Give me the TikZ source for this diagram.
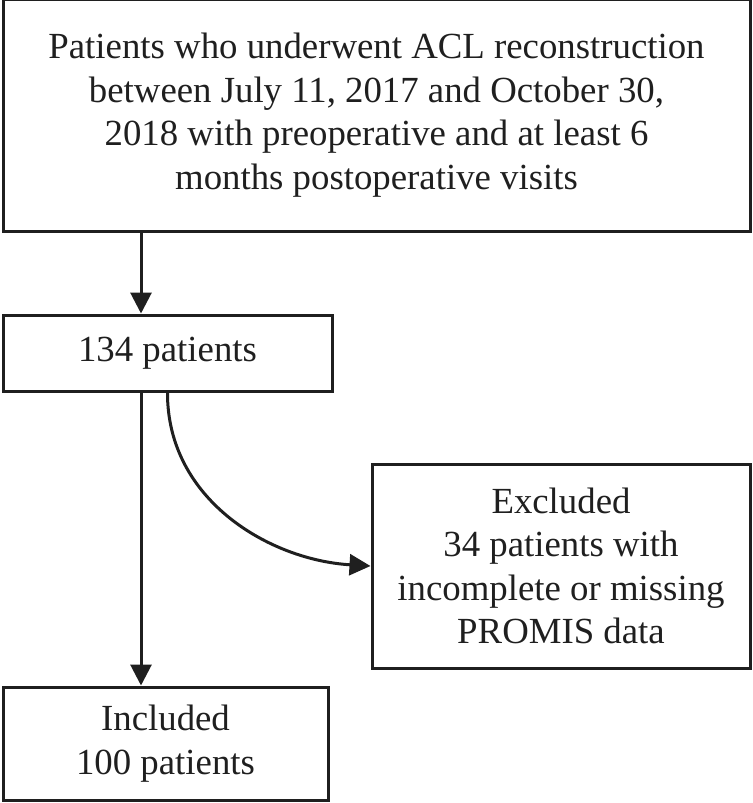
\documentclass[tikz,border=0pt]{standalone}
\usepackage{fontspec}
\setmainfont{Liberation Serif}
\usetikzlibrary{arrows.meta}
\begin{document}
\begin{tikzpicture}[x=0.5pt,y=-0.5pt,line width=1.5pt,color={black!88},
  box/.style={draw,rectangle,align=center,inner sep=0pt,font=\fontsize{18.4}{21.8}\selectfont},
  flow/.style={-{Triangle[length=10.5pt,width=10.5pt]}}]
\useasboundingbox (0,0) rectangle (753,803);
\node [box,minimum width=373.5pt,minimum height=116pt] (start) at (376.5,115)
  {Patients who underwent ACL reconstruction\\between July 11, 2017 and October 30,\\2018 with preoperative and at least 6\\months postoperative visits};
\node [box,minimum width=164.5pt,minimum height=38pt] (total) at (167.5,353) {134 patients};
\node [box,minimum width=189pt,minimum height=102pt] (excl) at (561,566)
  {Excluded\\34 patients with\\incomplete or missing\\PROMIS data};
\node [box,minimum width=162.5pt,minimum height=56.5pt] (incl) at (165.5,743.5) {Included\\100 patients};
\coordinate (trunk) at (141,0);
\draw [flow] (start.south -| trunk) -- (total.north -| trunk);
\draw [flow] (total.south -| trunk) -- (incl.north -| trunk);
\draw [flow] (total.south) .. controls (167,500) and (270,560) .. (excl.west);
\end{tikzpicture}
\end{document}
